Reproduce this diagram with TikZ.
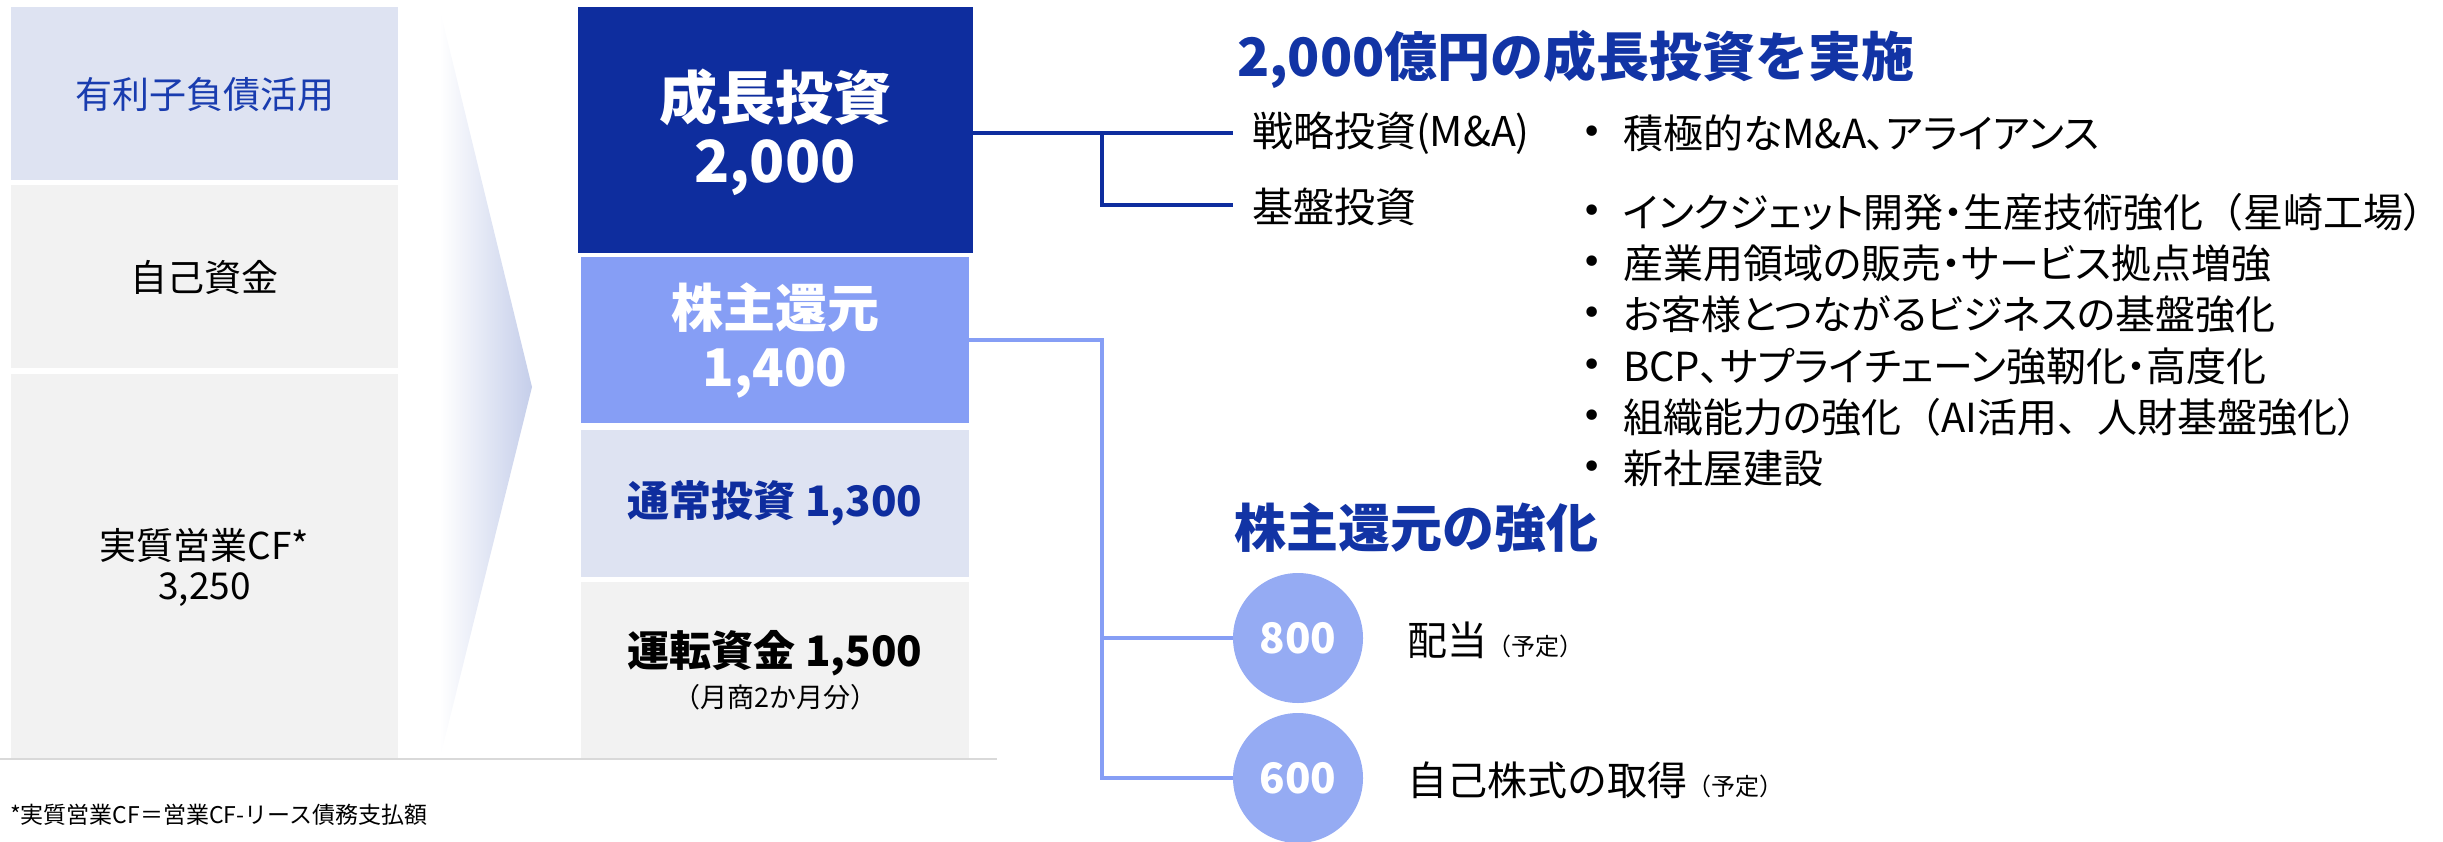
\documentclass[tikz,border=0pt]{standalone}
\usepackage{fontspec}
\setmainfont{Noto Sans CJK JP}
\newfontfamily\jpp{Noto Sans CJK JP}[RawFeature=+palt]
\newfontfamily\jpn{Noto Sans CJK JP}
\newfontfamily\dejavu{DejaVu Sans}
\newcommand{\myfs}[1]{\fontsize{#1}{#1}\selectfont}
\definecolor{dblue}{RGB}{14,45,158}
\definecolor{tblue}{RGB}{18,52,165}
\definecolor{mblue}{RGB}{25,60,175}
\definecolor{lblue}{RGB}{134,158,245}
\definecolor{cblue}{RGB}{149,171,243}
\definecolor{pale}{RGB}{222,227,242}
\definecolor{gbox}{RGB}{242,242,242}
\definecolor{chev}{RGB}{197,206,234}
\definecolor{baseg}{RGB}{217,217,217}
\begin{document}
\begin{tikzpicture}[x=1pt,y=-1pt,
  every node/.style={inner sep=0pt,outer sep=0pt},
  lbox/.style={rectangle,minimum width=387pt},
  mbox/.style={rectangle,minimum width=388pt},
  dline/.style={draw=dblue,line width=4pt},
  lline/.style={draw=lblue,line width=4pt},
  circ/.style={circle,fill=cblue,minimum size=130pt,text=white,font=\myfs{42}\bfseries},
  body/.style={anchor=west,font=\jpp\myfs{40}},
  bul/.style={font=\dejavu\myfs{36}},
  ttl/.style={anchor=west,text=tblue,font=\bfseries\myfs{#1}}
]
\useasboundingbox (0,0) rectangle (2443,841);

% left column
\node[lbox,fill=pale,minimum height=173pt] (lb1) at (204.5,93.5) {};
\node[lbox,fill=gbox,minimum height=183pt] (lb2) at (204.5,276.5) {};
\node[lbox,fill=gbox,minimum height=384pt] (lb3) at (204.5,566) {};
\node[text=mblue,font=\myfs{37}] (t1) at (204.5,95) {有利子負債活用};
\node[font=\myfs{37}] (t2) at (204.5,277) {自己資金};
\node[font=\myfs{37}] (t3) at (204.5,545) {実質営業CF*};
\node[font=\myfs{37}] (t4) at (204.5,590) {3,250};

% chevron
\shade[left color=white,right color=chev] (440,10) -- (532,387) -- (440,758) -- cycle;

% middle column
\node[rectangle,minimum width=395pt,minimum height=246pt,fill=dblue] (gi) at (775.5,130) {};
\node[mbox,fill=lblue,minimum height=166pt] (sh) at (775,340) {};
\node[mbox,fill=pale,minimum height=147pt] (ni) at (775,503.5) {};
\node[mbox,fill=gbox,minimum height=176pt] (wc) at (775,670) {};
\node[text=white,font=\bfseries\myfs{58}] (gi1) at (775,97) {成長投資};
\node[text=white,font=\bfseries\myfs{58}] (gi2) at (775,168) {2,000};
\node[text=white,font=\bfseries\myfs{52}] (sh1) at (775,308) {株主還元};
\node[text=white,font=\bfseries\myfs{52}] (sh2) at (775,373) {1,400};
\node[text=dblue,font=\bfseries\myfs{42}] (ni1) at (775,503) {通常投資 1,300};
\node[font=\bfseries\myfs{42}] (wc1) at (775,653) {運転資金 1,500};
\node[font=\myfs{27}] (wc2) at (775,697) {（月商2か月分）};

% base line and footnote
\coordinate (bl0) at (0,759);
\coordinate (bl1) at (997,759);
\draw[baseg,line width=2pt] (bl0) -- (bl1);
\node[anchor=west,font=\myfs{23}] (fn) at (10,815) {*実質営業CF＝営業CF-リース債務支払額};

% growth investment connectors
\coordinate (j1) at (1102,133);
\coordinate (b1) at (1233,133);
\coordinate (b2) at (1233,205);
\draw[dline] (gi.east |- b1) -- (b1);
\draw[dline] (j1) |- (b2);

% right texts
\node[ttl=53] (h1) at (1237,59) {2,000億円の成長投資を実施};
\node[body,font=\jpp\myfs{41}] (s1) at (1252,133) {戦略投資(M\&A)};
\node[body,font=\jpp\myfs{41}] (s2) at (1252,207) {基盤投資};
\node[bul] (d0) at (1592,135) {•};
\node[body] (r0) at (1623,133) {積極的なM\&A、アライアンス};
\node[bul] (d1) at (1592,214) {•};
\node[body] (r1) at (1623,212) {インクジェット開発・生産技術強化{\jpn （}星崎工場）};
\node[bul] (d2) at (1592,265) {•};
\node[body] (r2) at (1623,263) {産業用領域の販売・サービス拠点増強};
\node[bul] (d3) at (1592,316) {•};
\node[body] (r3) at (1623,314) {お客様とつながるビジネスの基盤強化};
\node[bul] (d4) at (1592,368) {•};
\node[body] (r4) at (1623,366) {BCP、サプライチェーン強靭化・高度化};
\node[bul] (d5) at (1592,419) {•};
\node[body] (r5) at (1623,417) {組織能力の強化{\jpn （}AI活用{\jpn 、}人財基盤強化）};
\node[bul] (d6) at (1592,470) {•};
\node[body] (r6) at (1623,468) {新社屋建設};

% shareholder return
\node[ttl=52] (h2) at (1234,528) {株主還元の強化};
\node[circ] (c800) at (1298,638) {800};
\node[circ] (c600) at (1298,778) {600};
\coordinate (j2) at (1102,340);
\draw[lline] (sh.east) -- (j2) |- (c600.west);
\draw[lline] (j2 |- c800.west) -- (c800.west);
\node[anchor=west,font=\myfs{40}] (p1) at (1407,640) {配当\myfs{24}（予定）};
\node[anchor=west,font=\myfs{40}] (p2) at (1407,780) {自己株式の取得\myfs{24}（予定）};
\end{tikzpicture}
\end{document}
